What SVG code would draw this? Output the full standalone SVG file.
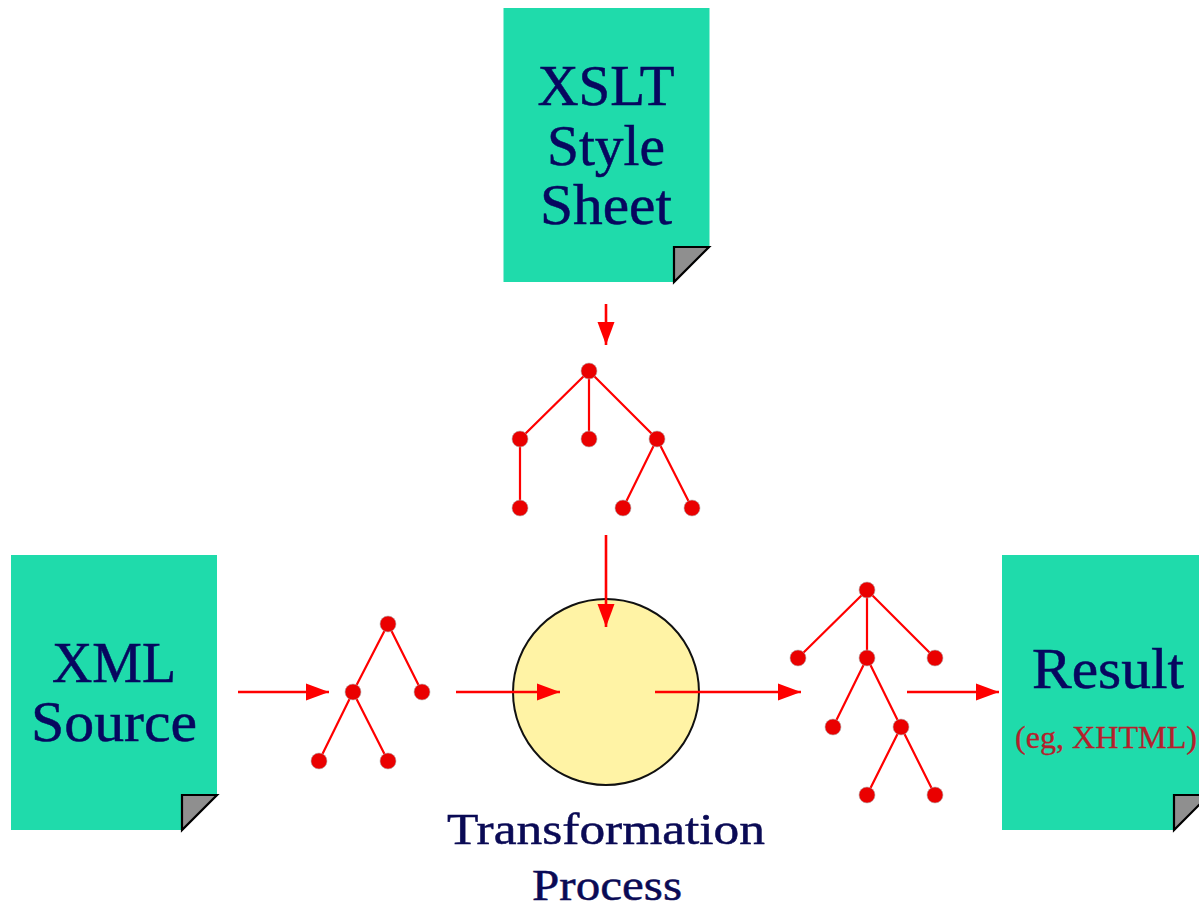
<svg xmlns="http://www.w3.org/2000/svg" width="1199" height="910" viewBox="0 0 1199 910">
<style>
.doc{fill:#1fdbab}
.fold{fill:#8f8f8f;stroke:#000;stroke-width:2.200;stroke-linejoin:miter}
.t{font-family:"Liberation Serif","DejaVu Serif",serif;fill:#07075f;text-anchor:middle;stroke:#07075f;stroke-width:.5}
.big{font-size:56px}
.cap{font-size:45px;fill:#0a0a55;stroke:#0a0a55}
.sub{font-size:31px;fill:#b5202c;stroke:#b5202c;stroke-width:.3}
.e{stroke:#f00;stroke-width:2.200;fill:none}
.n{fill:#ea0000;stroke:#b0b0b0;stroke-width:.6}
.a{stroke:#f00;stroke-width:2.600;fill:none;marker-end:url(#h)}
</style>
<defs><marker id="h" markerUnits="userSpaceOnUse" markerWidth="24" markerHeight="18" refX="23" refY="8.500" orient="auto" viewBox="0 0 24 17"><path d="M0 0L23 8.500L0 17Z" fill="#f00"/></marker></defs>
<rect width="1199" height="910" fill="#fff"/>
<g id="xslt-doc"><path class="doc" d="M503.500 8H709.500V247L674 282H503.500Z"/><path class="fold" d="M674 247H709L674 282Z"/>
<text class="t big" x="606" y="105" textLength="137" lengthAdjust="spacingAndGlyphs">XSLT</text><text class="t big" x="606" y="165" textLength="118" lengthAdjust="spacingAndGlyphs">Style</text><text class="t big" x="606" y="224" textLength="132" lengthAdjust="spacingAndGlyphs">Sheet</text></g>
<g id="xml-doc"><path class="doc" d="M11 555H217V795L182 830H11Z"/><path class="fold" d="M182 795H217L182 830Z"/>
<text class="t big" x="114" y="682" textLength="124" lengthAdjust="spacingAndGlyphs">XML</text><text class="t big" x="114" y="741" textLength="166" lengthAdjust="spacingAndGlyphs">Source</text></g>
<g id="result-doc"><path class="doc" d="M1002 555H1208V795L1174 830H1002Z"/><path class="fold" d="M1174 795H1209L1174 830Z"/>
<text class="t big" x="1108" y="688" textLength="152" lengthAdjust="spacingAndGlyphs">Result</text><text class="t sub" x="1106" y="748" textLength="182" lengthAdjust="spacingAndGlyphs">(eg, XHTML)</text></g>
<g id="process"><circle cx="606" cy="692" r="93" fill="#fff3a5" stroke="#111" stroke-width="2"/>
<text class="t cap" x="606" y="844" textLength="318" lengthAdjust="spacingAndGlyphs">Transformation</text><text class="t cap" x="607" y="900" textLength="150" lengthAdjust="spacingAndGlyphs">Process</text></g>
<g id="tree-top"><path class="e" d="M589 371L520 439V508M589 371V439M589 371L657 439L623 508M657 439L692 508"/>
<circle class="n" cx="589" cy="371" r="8"/><circle class="n" cx="520" cy="439" r="8"/><circle class="n" cx="589" cy="439" r="8"/><circle class="n" cx="657" cy="439" r="8"/><circle class="n" cx="520" cy="508" r="8"/><circle class="n" cx="623" cy="508" r="8"/><circle class="n" cx="692" cy="508" r="8"/></g>
<g id="tree-left"><path class="e" d="M388 624L353 692L319 761M388 624L422 692M353 692L388 761"/>
<circle class="n" cx="388" cy="624" r="8"/><circle class="n" cx="353" cy="692" r="8"/><circle class="n" cx="422" cy="692" r="8"/><circle class="n" cx="319" cy="761" r="8"/><circle class="n" cx="388" cy="761" r="8"/></g>
<g id="tree-right"><path class="e" d="M867 590L798 658M867 590V658M867 590L935 658M867 658L833 727M867 658L901 727L867 795M901 727L935 795"/>
<circle class="n" cx="867" cy="590" r="8"/><circle class="n" cx="798" cy="658" r="8"/><circle class="n" cx="867" cy="658" r="8"/><circle class="n" cx="935" cy="658" r="8"/><circle class="n" cx="833" cy="727" r="8"/><circle class="n" cx="901" cy="727" r="8"/><circle class="n" cx="867" cy="795" r="8"/><circle class="n" cx="935" cy="795" r="8"/></g>
<g id="connectors">
<path class="a" d="M606 304V345"/>
<path class="a" d="M606 535V627"/>
<path class="a" d="M238 692H329"/>
<path class="a" d="M456 692H560"/>
<path class="a" d="M655 692H801"/>
<path class="a" d="M907 692H999"/>
</g>
</svg>
